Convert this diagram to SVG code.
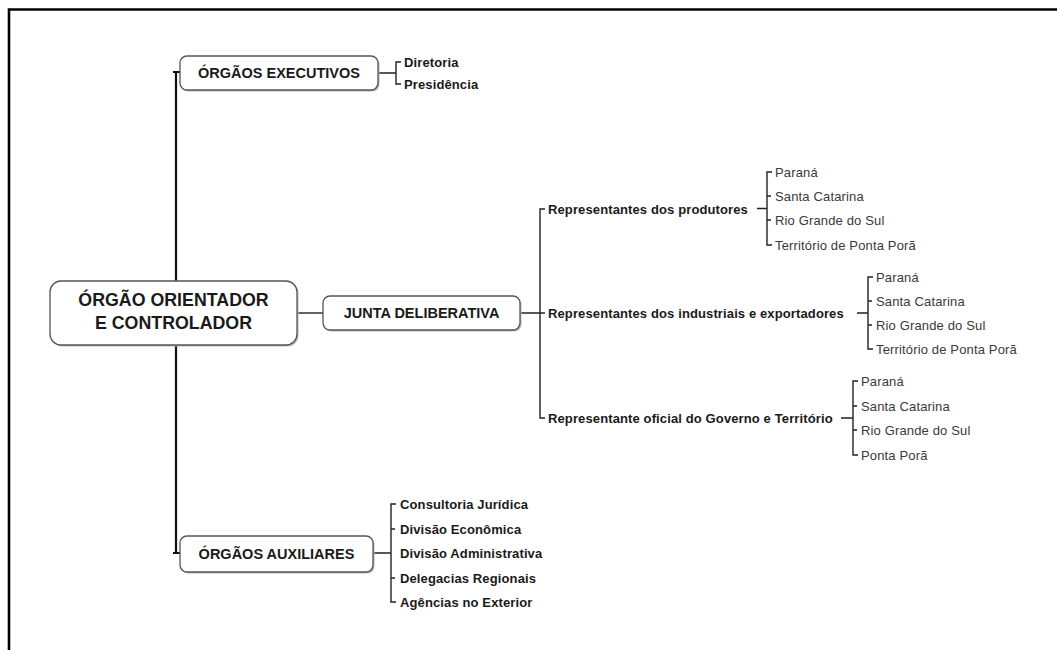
<svg xmlns="http://www.w3.org/2000/svg" width="1057" height="650" viewBox="0 0 1057 650">
  <defs>
    <style>
      .frame { stroke: #000; stroke-width: 2.6; fill: none; }
      .trunk { stroke: #111; stroke-width: 2.2; fill: none; }
      .link { stroke: #222; stroke-width: 1.4; fill: none; }
      .box { fill: #fff; stroke: #555; stroke-width: 1.3; }
      .shadow { fill: #b8b8b8; }
      .title { font-family: "Liberation Sans", Arial, sans-serif; font-weight: bold; fill: #1a1a1a; text-anchor: middle; }
      .lbl { font-family: "Liberation Sans", Arial, sans-serif; font-weight: bold; font-size: 13px; fill: #1a1a1a; letter-spacing: 0.12px; }
      .item { font-family: "Liberation Sans", Arial, sans-serif; font-size: 13px; fill: #3a3a3a; letter-spacing: 0.15px; }
    </style>
  </defs>
  <rect width="1057" height="650" fill="#fff"/>

  <!-- page frame (top and left edges) -->
  <path class="frame" d="M 9 650 V 9.5 H 1057"/>

  <g id="connectors">
    <!-- main trunk -->
    <path class="trunk" d="M 173 72 H 180 M 176 72 V 553 M 173 553 H 180"/>
    <!-- main box to junta -->
    <path class="link" d="M 297 313 H 323"/>
    <!-- executivos bracket -->
    <path class="link" d="M 378 73 H 396 M 401 62 H 396 V 84 H 401"/>
    <!-- junta bracket -->
    <path class="link" d="M 520 313 H 545 M 545 209 H 540 V 418 H 545"/>
    <!-- produtores -->
    <path class="link" d="M 757 208.5 H 767 M 772 172 H 767 V 245 H 772 M 767 196 H 771 M 767 220 H 771"/>
    <!-- industriais e exportadores -->
    <path class="link" d="M 857 313 H 868 M 873 277 H 868 V 349 H 873 M 868 301 H 872 M 868 325 H 872"/>
    <!-- governo e territorio -->
    <path class="link" d="M 841 418 H 853 M 858 381 H 853 V 455 H 858 M 853 406 H 857 M 853 430 H 857"/>
    <!-- auxiliares bracket -->
    <path class="link" d="M 373 553 H 391 M 396 504 H 391 V 602 H 396 M 391 529 H 395 M 391 578 H 395"/>
  </g>

  <g id="orgao-orientador">
    <rect class="shadow" x="51.5" y="282.5" width="247" height="64" rx="11"/>
    <rect class="box" x="50" y="281" width="247" height="64" rx="11"/>
    <text class="title" x="173.5" y="306" font-size="17.8">ÓRGÃO ORIENTADOR</text>
    <text class="title" x="173.5" y="329" font-size="17.8">E CONTROLADOR</text>
  </g>

  <g id="orgaos-executivos">
    <rect class="shadow" x="181.5" y="57.5" width="198" height="34" rx="7"/>
    <rect class="box" x="180" y="56" width="198" height="34" rx="7"/>
    <text class="title" x="279" y="78.2" font-size="14.5">ÓRGÃOS EXECUTIVOS</text>
  </g>
  <g id="executivos-itens">
    <text class="lbl" x="404" y="66.5">Diretoria</text>
    <text class="lbl" x="404" y="88.5">Presidência</text>
  </g>

  <g id="junta-deliberativa">
    <rect class="shadow" x="324.5" y="297.5" width="197" height="34" rx="7"/>
    <rect class="box" x="323" y="296" width="197" height="34" rx="7"/>
    <text class="title" x="421.5" y="318.2" font-size="14.5">JUNTA DELIBERATIVA</text>
  </g>

  <g id="produtores">
    <text class="lbl" x="548" y="213.5">Representantes dos produtores</text>
    <text class="item" x="775" y="176.5">Paraná</text>
    <text class="item" x="775" y="200.5">Santa Catarina</text>
    <text class="item" x="775" y="224.5">Rio Grande do Sul</text>
    <text class="item" x="775" y="249.5">Território de Ponta Porã</text>
  </g>

  <g id="industriais">
    <text class="lbl" x="548" y="317.5">Representantes dos industriais e exportadores</text>
    <text class="item" x="876" y="281.5">Paraná</text>
    <text class="item" x="876" y="305.5">Santa Catarina</text>
    <text class="item" x="876" y="329.5">Rio Grande do Sul</text>
    <text class="item" x="876" y="353.5">Território de Ponta Porã</text>
  </g>

  <g id="governo">
    <text class="lbl" x="548" y="422.5">Representante oficial do Governo e Território</text>
    <text class="item" x="861" y="385.5">Paraná</text>
    <text class="item" x="861" y="410.5">Santa Catarina</text>
    <text class="item" x="861" y="434.5">Rio Grande do Sul</text>
    <text class="item" x="861" y="459.5">Ponta Porã</text>
  </g>

  <g id="orgaos-auxiliares">
    <rect class="shadow" x="181.5" y="537.5" width="193" height="36" rx="7"/>
    <rect class="box" x="180" y="536" width="193" height="36" rx="7"/>
    <text class="title" x="276.5" y="559.2" font-size="14.5">ÓRGÃOS AUXILIARES</text>
  </g>
  <g id="auxiliares-itens">
    <text class="lbl" x="400" y="508.5">Consultoria Jurídica</text>
    <text class="lbl" x="400" y="533.5">Divisão Econômica</text>
    <text class="lbl" x="400" y="557.5">Divisão Administrativa</text>
    <text class="lbl" x="400" y="582.5">Delegacias Regionais</text>
    <text class="lbl" x="400" y="606.5">Agências no Exterior</text>
  </g>
</svg>
